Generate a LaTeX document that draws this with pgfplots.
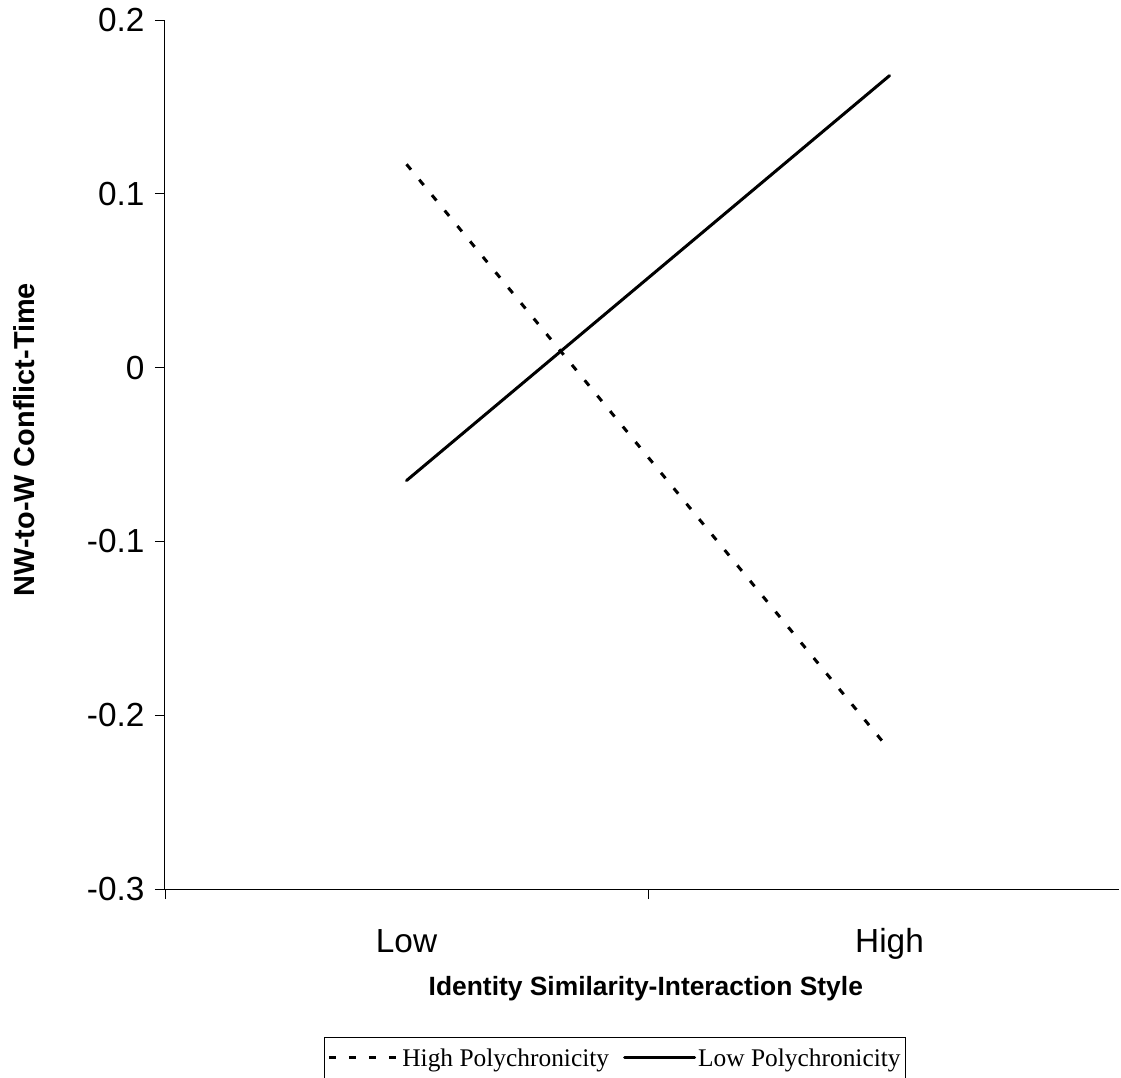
\documentclass[border=0pt]{standalone}
\usepackage{pgfplots}
\pgfplotsset{compat=1.18}
\usepackage{fontspec}
\setmainfont{Liberation Sans}
\newfontfamily\timesfont{Liberation Serif}
\begin{document}
\begin{tikzpicture}
\begin{axis}[
  name=ax,
  scale only axis, width=954bp, height=869bp,
  xmin=0, xmax=1.975, ymin=-0.3, ymax=0.2,
  axis lines*=left,
  axis line style={line width=1bp},
  xtick={0,1}, xticklabels={},
  ytick={-0.3,-0.2,-0.1,0,0.1,0.2},
  yticklabels={-0.3,-0.2,-0.1,0,0.1,0.2},
  tick align=outside, major tick length=10bp,
  tick style={black, line width=0.8bp},
  extra x ticks={0.5,1.5}, extra x tick labels={Low,High},
  extra x tick style={major tick length=0pt, tick label style={anchor=base, yshift=-63bp}},
  ticklabel style={font=\fontsize{33.5}{38}\selectfont},
  yticklabel style={xshift=-7bp},
  xlabel={\textbf{Identity Similarity-Interaction Style}},
  ylabel={\textbf{NW-to-W Conflict-Time}},
  xlabel style={font=\fontsize{26.5}{30}\selectfont, at={(axis description cs:0.504,-0.122)}, anchor=base},
  ylabel style={font=\fontsize{29}{32}\selectfont, at={(axis description cs:-0.1373,0.517)}, anchor=base, rotate=0},
  legend columns=2,
  legend style={at={(0.4717,-0.1703)}, anchor=north, draw=black, line width=0.8bp,
    font=\timesfont\fontsize{25.5}{30}\selectfont, inner xsep=3bp, inner ysep=9bp,
    /tikz/every even column/.append style={column sep=12bp}},
  legend image code/.code={\draw[#1] (0bp,0bp) -- (70bp,0bp);},
]
\addplot[black, line width=3bp, dash pattern=on 7bp off 13bp] coordinates {(0.5,0.117) (1.5,-0.220)};
\addlegendentry{High Polychronicity}
\addplot[black, line width=3bp, line cap=round] coordinates {(0.5,-0.065) (1.5,0.168)};
\addlegendentry{Low Polychronicity}
\end{axis}
\pgfresetboundingbox
\path[use as bounding box] ([xshift=-165bp,yshift=-189bp]ax.south west) rectangle ([xshift=956bp,yshift=889bp]ax.south west);
\end{tikzpicture}
\end{document}
